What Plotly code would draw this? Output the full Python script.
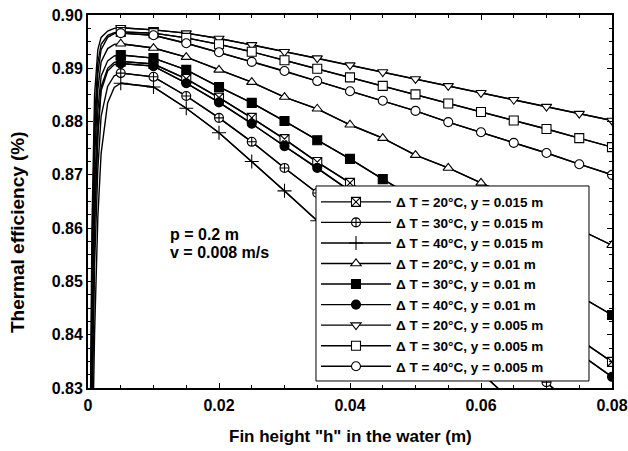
import plotly.graph_objects as go

# Fin height h (m)
h = [0.0002, 0.0006, 0.001, 0.0015, 0.002, 0.003, 0.004,
     0.005, 0.01, 0.015, 0.02, 0.025, 0.03, 0.035, 0.04,
     0.045, 0.05, 0.055, 0.06, 0.065, 0.07, 0.075, 0.08]
n_unmarked = 7  # first points have no marker

# Thermal efficiency series
dT20_y015 = [0.76, 0.832, 0.862, 0.878, 0.8865, 0.8900, 0.8911,
             0.8913, 0.8908, 0.8880, 0.8845, 0.8807, 0.8767, 0.8724, 0.8685,
             0.8644, 0.8602, 0.8560, 0.8518, 0.8476, 0.8434, 0.8392, 0.8349]
dT30_y015 = [0.75, 0.822, 0.853, 0.871, 0.8810, 0.8866, 0.8886,
             0.8891, 0.8884, 0.8848, 0.8807, 0.8762, 0.8713, 0.8666, 0.8617,
             0.8567, 0.8516, 0.8465, 0.8414, 0.8362, 0.8311, 0.8259, 0.8207]
dT40_y015 = [0.74, 0.812, 0.840, 0.862, 0.8740, 0.8835, 0.8864,
             0.8872, 0.8865, 0.8825, 0.8779, 0.8725, 0.8670, 0.8614, 0.8557,
             0.8500, 0.8443, 0.8386, 0.8329, 0.8272, 0.8215, 0.8158, 0.8101]
dT20_y01 = [0.78, 0.845, 0.873, 0.886, 0.8912, 0.8937, 0.8945,
            0.8946, 0.8938, 0.8921, 0.8897, 0.8874, 0.8846, 0.8824, 0.8794,
            0.8769, 0.8737, 0.8713, 0.8685, 0.8657, 0.8627, 0.8598, 0.8568]
dT30_y01 = [0.77, 0.838, 0.867, 0.882, 0.8885, 0.8914, 0.8923,
            0.8925, 0.8919, 0.8897, 0.8865, 0.8835, 0.8801, 0.8765, 0.8730,
            0.8692, 0.8655, 0.8619, 0.8582, 0.8546, 0.8509, 0.8473, 0.8437]
dT40_y01 = [0.76, 0.830, 0.860, 0.877, 0.8858, 0.8895, 0.8907,
            0.8909, 0.8904, 0.8872, 0.8836, 0.8796, 0.8754, 0.8713, 0.8670,
            0.8627, 0.8584, 0.8540, 0.8496, 0.8452, 0.8408, 0.8365, 0.8321]
dT20_y005 = [0.80, 0.860, 0.885, 0.8935, 0.8958, 0.8970, 0.8975,
             0.8976, 0.8972, 0.8966, 0.8956, 0.8944, 0.8931, 0.8919, 0.8906,
             0.8893, 0.8880, 0.8867, 0.8854, 0.8841, 0.8828, 0.8815, 0.8802]
dT30_y005 = [0.79, 0.853, 0.880, 0.891, 0.8945, 0.8962, 0.8967,
             0.8968, 0.8966, 0.8957, 0.8945, 0.8931, 0.8915, 0.8899, 0.8883,
             0.8867, 0.8851, 0.8834, 0.8818, 0.8802, 0.8786, 0.8769, 0.8752]
dT40_y005 = [0.78, 0.848, 0.877, 0.889, 0.8935, 0.8958, 0.8965,
             0.8966, 0.8962, 0.8947, 0.8930, 0.8912, 0.8895, 0.8876, 0.8857,
             0.8839, 0.8820, 0.8799, 0.8780, 0.8760, 0.8741, 0.8720, 0.8700]

series_names = [
    "\u0394 T = 20\u00b0C, y = 0.015 m",
    "\u0394 T = 30\u00b0C, y = 0.015 m",
    "\u0394 T = 40\u00b0C, y = 0.015 m",
    "\u0394 T = 20\u00b0C, y = 0.01 m",
    "\u0394 T = 30\u00b0C, y = 0.01 m",
    "\u0394 T = 40\u00b0C, y = 0.01 m",
    "\u0394 T = 20\u00b0C, y = 0.005 m",
    "\u0394 T = 30\u00b0C, y = 0.005 m",
    "\u0394 T = 40\u00b0C, y = 0.005 m",
]
series_values = [dT20_y015, dT30_y015, dT40_y015, dT20_y01, dT30_y01,
                 dT40_y01, dT20_y005, dT30_y005, dT40_y005]

x_tick_vals = [0, 0.02, 0.04, 0.06, 0.08]
x_tick_text = ["0", "0.02", "0.04", "0.06", "0.08"]
y_tick_vals = [0.83, 0.84, 0.85, 0.86, 0.87, 0.88, 0.89, 0.90]
y_tick_text = ["0.83", "0.84", "0.85", "0.86", "0.87", "0.88", "0.89", "0.90"]

# symbol, fill colour
styles = [
    ("square-x", "white"),
    ("circle-cross", "white"),
    ("cross-thin-open", "black"),
    ("triangle-up", "white"),
    ("square", "black"),
    ("circle", "black"),
    ("triangle-down", "white"),
    ("square", "white"),
    ("circle", "white"),
]

FONT = "Liberation Sans, Arial, sans-serif"

fig = go.Figure()
for i, (name, vals) in enumerate(zip(series_names, series_values)):
    sym, fill = styles[i]
    fig.add_trace(go.Scatter(
        x=h, y=vals, mode="lines",
        line=dict(color="black", width=1.4),
        showlegend=False, hoverinfo="skip",
    ))
    size = 9 if sym != "cross-thin-open" else 10
    fig.add_trace(go.Scatter(
        x=h[n_unmarked:], y=vals[n_unmarked:], mode="lines+markers",
        name=name,
        line=dict(color="black", width=1.4),
        marker=dict(symbol=sym, size=size, color=fill,
                    line=dict(color="black", width=1.1)),
    ))

# legend frame (white box drawn over the curves, legend entries sit on top)
fig.add_shape(type="rect", xref="paper", yref="paper",
              x0=0.4351, x1=0.9561, y0=0.0188, y1=0.5416,
              fillcolor="white", line=dict(color="black", width=1), layer="above")

fig.add_annotation(x=0.0122, y=0.8588, xref="x", yref="y", text="<b>p = 0.2 m</b>",
                   showarrow=False, xanchor="left", yanchor="middle",
                   font=dict(family=FONT, size=16, color="black"))
fig.add_annotation(x=0.0122, y=0.8554, xref="x", yref="y", text="<b>v = 0.008 m/s</b>",
                   showarrow=False, xanchor="left", yanchor="middle",
                   font=dict(family=FONT, size=16, color="black"))

# axis titles
fig.add_annotation(x=0.5, y=-0.131, xref="paper", yref="paper",
                   text="<b>Fin height \"h\" in the water (m)</b>",
                   showarrow=False, xanchor="center", yanchor="middle",
                   font=dict(family=FONT, size=17, color="black"))
fig.add_annotation(x=-0.1355, y=0.418, xref="paper", yref="paper",
                   text="<b>Thermal efficiency (%)</b>", textangle=-90,
                   showarrow=False, xanchor="center", yanchor="middle",
                   font=dict(family=FONT, size=19, color="black"))

axis_common = dict(
    showgrid=False, zeroline=False, showline=True, linecolor="black", linewidth=2,
    mirror="ticks", ticks="inside", ticklen=5, tickcolor="black", tickwidth=1,
    tickfont=dict(family=FONT, size=16, color="black", weight="bold"),
    automargin=False,
)

fig.update_layout(
    width=628, height=451,
    margin=dict(l=88, r=16, t=15, b=63),
    paper_bgcolor="white", plot_bgcolor="white",
    font=dict(family=FONT, size=16, color="black", weight="bold"),
    xaxis=dict(range=[0, 0.08], tickvals=x_tick_vals, ticktext=x_tick_text,
               minor=dict(dtick=0.005, tick0=0, ticks="inside", ticklen=3, tickcolor="black"),
               ticklabelstandoff=2,
               **axis_common),
    yaxis=dict(range=[0.83, 0.90], tickvals=y_tick_vals, ticktext=y_tick_text,
               minor=dict(dtick=0.0025, tick0=0.83, ticks="inside", ticklen=3, tickcolor="black"),
               ticklabelstandoff=0,
               **axis_common),
    legend=dict(x=0.4351, y=0.5400, xanchor="left", yanchor="top",
                bgcolor="rgba(0,0,0,0)", borderwidth=0,
                font=dict(family=FONT, size=13.5, color="black", weight="bold"),
                itemwidth=70, traceorder="normal"),
    showlegend=True,
)

fig.write_html("out.html", config={"displayModeBar": False},
               post_script="document.body.style.margin='0px';")
